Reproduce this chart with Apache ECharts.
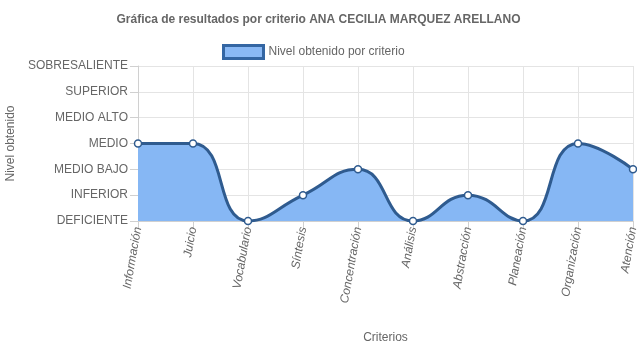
<!DOCTYPE html>
<html><head><meta charset="utf-8">
<script src="https://cdn.jsdelivr.net/npm/echarts@6/dist/echarts.min.js"></script>
<style>html,body{margin:0;padding:0;background:#fff}#c{width:637px;height:348px}</style>
</head><body><div id="c"></div>
<script>
var categories = ['Información','Juicio','Vocabulario','Síntesis','Concentración','Análisis','Abstracción','Planeación','Organización','Atención'];
var levels = [3,3,0,1,2,0,1,0,3,2];
var yLabels = ['DEFICIENTE','INFERIOR','MEDIO BAJO','MEDIO','MEDIO ALTO','SUPERIOR','SOBRESALIENTE'];
var seriesName = 'Nivel obtenido por criterio';

var chart = echarts.init(document.getElementById('c'), null, {renderer:'canvas'});
chart.setOption({
  animation:false,
  textStyle:{fontFamily:'"Liberation Sans", Arial, sans-serif'},
  title:{text:'Gráfica de resultados por criterio ANA CECILIA MARQUEZ ARELLANO',left:'center',top:9,
    textStyle:{fontSize:12,fontWeight:'bold',color:'#666',fontFamily:'"Liberation Sans", Arial, sans-serif'}},
  legend:{data:[{name:seriesName,icon:'rect'}],top:44,left:222,padding:0,itemWidth:40,itemHeight:13,itemGap:6,
    textStyle:{fontSize:12,color:'#666'},
    itemStyle:{color:'#8ab9f5',borderColor:'#3466a3',borderWidth:3}},
  grid:{left:138,right:4,top:66,bottom:127,containLabel:false,outerBoundsMode:'none'},
  xAxis:{type:'category',data:categories,boundaryGap:false,
    name:'Criterios',nameLocation:'middle',nameGap:111,nameTextStyle:{fontSize:12,color:'#666'},
    axisLine:{lineStyle:{color:'#d0d0d0'}},
    axisTick:{show:true,length:8,alignWithLabel:true,lineStyle:{color:'#d0d0d0'}},
    splitLine:{show:true,lineStyle:{color:'#e4e4e4'}},
    axisLabel:{rotate:80,fontSize:12,fontStyle:'italic',color:'#666',margin:6,interval:0}},
  yAxis:{type:'value',min:0,max:6,interval:1,
    name:'Nivel obtenido',nameLocation:'middle',nameGap:118,nameTextStyle:{fontSize:12,color:'#666'},
    axisLine:{show:true,lineStyle:{color:'#d0d0d0'}},
    axisTick:{show:true,length:8,lineStyle:{color:'#d0d0d0'}},
    splitLine:{show:true,lineStyle:{color:'#e4e4e4'}},
    axisLabel:{fontSize:12,color:'#666',margin:10,formatter:function(v){return yLabels[v]||'';}}},
  series:[{name:seriesName,type:'line',data:levels,smooth:0.5,
    symbol:'circle',symbolSize:7,showSymbol:true,
    lineStyle:{color:'#2f5b8f',width:3},
    itemStyle:{color:'#ffffff',borderColor:'#2f5b8f',borderWidth:1.5},
    areaStyle:{color:'#86b7f4',opacity:1}}]
});
</script></body></html>
